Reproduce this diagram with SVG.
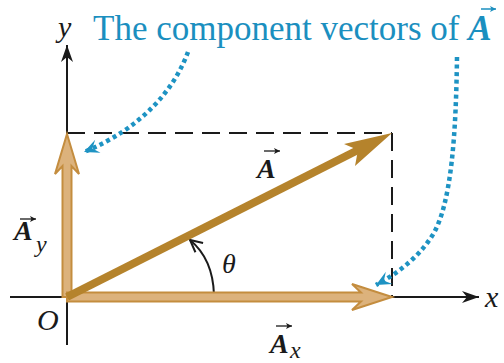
<svg xmlns="http://www.w3.org/2000/svg" width="504" height="363" viewBox="0 0 504 363">
<style>
.lbl{fill:#1a1a1a}
.title{fill:#1b8fbf}
.axis{stroke:#1a1a1a;stroke-width:2;fill:none}
.dash{stroke:#1a1a1a;stroke-width:2;fill:none;stroke-dasharray:18 9}
.dot{stroke:#1e93c3;stroke-width:4.5;fill:none;stroke-dasharray:4 3.5}
.comp{fill:#dcb27c;stroke:#c48d3f;stroke-width:2;stroke-linejoin:miter}
.acc{stroke:#1a1a1a;stroke-width:1.3;fill:none}
</style>
<defs>
<marker id="axhead" markerUnits="userSpaceOnUse" markerWidth="20" markerHeight="14" refX="0" refY="0" viewBox="-18 -7 20 14" orient="auto">
<path d="M0,0 L-17,-6 L-12,0 L-17,6 Z" fill="#1a1a1a"/>
</marker>
<marker id="bluehead" markerUnits="userSpaceOnUse" markerWidth="18" markerHeight="16" refX="0" refY="0" viewBox="-16 -8 18 16" orient="auto">
<path d="M0,0 L-15,-7 L-9,0 L-15,7 Z" fill="#1e93c3"/>
</marker>
<marker id="vhead" markerUnits="userSpaceOnUse" markerWidth="16" markerHeight="14" refX="0" refY="0" viewBox="-14 -7 16 14" orient="auto">
<path d="M-12,-6 L0,0 L-12,6" fill="none" stroke="#1a1a1a" stroke-width="2"/>
</marker>
<marker id="acchead" markerUnits="userSpaceOnUse" markerWidth="8" markerHeight="8" refX="0" refY="0" viewBox="-7 -4 8 8" orient="auto">
<path d="M0,0 L-6,-3 L-4.5,0 L-6,3 Z" fill="#1a1a1a"/>
</marker>
<marker id="acchead-blue" markerUnits="userSpaceOnUse" markerWidth="8" markerHeight="8" refX="0" refY="0" viewBox="-7 -4 8 8" orient="auto">
<path d="M0,0 L-6,-3 L-4.5,0 L-6,3 Z" fill="#1b8fbf"/>
</marker>
</defs>

<g id="connectors">
<path id="y-axis" class="axis" d="M67,345 L67,45" marker-end="url(#axhead)"/>
<path id="x-axis" class="axis" d="M10,297 L479,297" marker-end="url(#axhead)"/>
<path id="dash-top" class="dash" d="M67,133 L392,133"/>
<path id="dash-right" class="dash" d="M392,133 L392,297"/>
<path id="blue-left" class="dot" d="M188,52 C174,90 142,128 84,152" marker-end="url(#bluehead)"/>
<path id="blue-right" class="dot" d="M457,57 C456,130 452,205 432,236 C418,258 398,273 376,285" marker-end="url(#bluehead)"/>
<path id="theta-arc" d="M214,295 Q213,259 190,240" fill="none" stroke="#1a1a1a" stroke-width="2" marker-end="url(#vhead)"/>
</g>

<g id="vector-Ay">
<polygon class="comp" points="67,134 79,174 71.5,166 71.5,297 62.5,297 62.5,166 55,174"/>
<path class="acc" d="M20,219 L36,219" marker-end="url(#acchead)"/>
</g>
<g id="vector-Ax">
<polygon class="comp" points="392,297 352,284 361,292.5 67,292.5 67,301.5 361,301.5 352,310"/>
<path class="acc" d="M276,326 L292,326" marker-end="url(#acchead)"/>
</g>
<g id="vector-A">
<line x1="67" y1="297" x2="360" y2="149" stroke="#b5832c" stroke-width="8"/>
<polygon points="392,133 355,166 358,150 344,144" fill="#b5832c"/>
<path class="acc" d="M264,151 L280,151" marker-end="url(#acchead)"/>
</g>
<g id="title-accent">
<path d="M481,9 L496,9" fill="none" stroke="#1b8fbf" stroke-width="1.5" marker-end="url(#acchead-blue)"/>
</g>

<text class="title" x="93" y="40" font-family="Liberation Serif" font-size="35" style="font-family:'Liberation Serif',serif;font-size:35px">The component vectors of <tspan font-weight="bold" font-style="italic" style="font-weight:bold;font-style:italic">A</tspan></text>
<text class="lbl" x="58" y="37" font-family="Liberation Serif" style="font-family:'Liberation Serif',serif;font-style:italic;font-size:30px">y</text>
<text class="lbl" x="485" y="307" font-family="Liberation Serif" style="font-family:'Liberation Serif',serif;font-style:italic;font-size:30px">x</text>
<text class="lbl" x="37" y="330" font-family="Liberation Serif" style="font-family:'Liberation Serif',serif;font-style:italic;font-size:30px">O</text>
<text class="lbl" x="222" y="273" font-family="Liberation Serif" style="font-family:'Liberation Serif',serif;font-style:italic;font-size:28px">θ</text>
<text class="lbl" x="257" y="178" font-family="Liberation Serif" style="font-family:'Liberation Serif',serif;font-style:italic;font-weight:bold;font-size:28px">A</text>
<text class="lbl" x="14" y="240" font-family="Liberation Serif" style="font-family:'Liberation Serif',serif;font-style:italic;font-weight:bold;font-size:28px">A</text>
<text class="lbl" x="36" y="252" font-family="Liberation Serif" style="font-family:'Liberation Serif',serif;font-style:italic;font-size:24px">y</text>
<text class="lbl" x="270" y="353" font-family="Liberation Serif" style="font-family:'Liberation Serif',serif;font-style:italic;font-weight:bold;font-size:28px">A</text>
<text class="lbl" x="290" y="358" font-family="Liberation Serif" style="font-family:'Liberation Serif',serif;font-style:italic;font-size:24px">x</text>
</svg>
